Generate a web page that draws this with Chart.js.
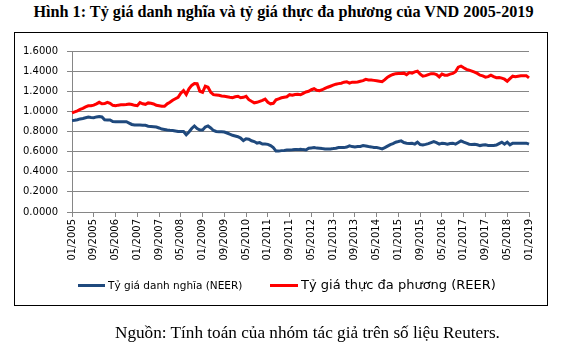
<!DOCTYPE html>
<html lang="vi">
<head>
  <meta charset="UTF-8" />
  <title>Tỷ giá danh nghĩa và tỷ giá thực đa phương của VND 2005-2019</title>
  <script src="https://cdn.jsdelivr.net/npm/chart.js"></script>
  <style>
    body { margin: 0; background: #fff; width: 567px; height: 350px; position: relative; overflow: hidden; }
    .abs { position: absolute; white-space: nowrap; }
    #title { left: 0; width: 567px; top: 3px; text-align: center; font: bold 16.2px "Liberation Serif", serif; color: #000; }
    #box { left: 14px; top: 32px; width: 532px; height: 272px; border: 1px solid #000; }
    #chart { position: absolute; left: 0; top: 0; }
    .swatch { height: 3px; }
    #leg1 { left: 108px; top: 279px; font: 10.5px "DejaVu Sans", sans-serif; line-height: 12px; }
    #leg2 { left: 301px; top: 277px; font: 13px "DejaVu Sans", sans-serif; line-height: 16px; }
    #source { left: 115px; top: 322px; font: 17.2px "Liberation Serif", serif; line-height: 22px; }
  </style>
</head>
<body>
  <div id="title" class="abs">Hình 1: Tỷ giá danh nghĩa và tỷ giá thực đa phương của VND 2005-2019</div>
  <div id="box" class="abs"></div>
  <canvas id="chart" width="567" height="350"></canvas>
  <div class="abs swatch" style="left:78px; top:284px; width:27px; background:#1f497d"></div>
  <div id="leg1" class="abs">Tỷ giá danh nghĩa (NEER)</div>
  <div class="abs swatch" style="left:270px; top:284px; width:28px; background:#ff0000"></div>
  <div id="leg2" class="abs">Tỷ giá thực đa phương (REER)</div>
  <div id="source" class="abs">Nguồn: Tính toán của nhóm tác giả trên số liệu Reuters.</div>

  <script>
    // monthly, 01/2005 .. 01/2019
    const firstYear = 2005;
    const lastYear = 2019;
    const months = [];
    for (let y = firstYear; y <= lastYear; y++) {
      for (let m = 1; m <= 12; m++) {
        if (y === lastYear && m > 1) break;
        months.push(String(m).padStart(2, '0') + '/' + y);
      }
    }

    // x labels shown every 8 months
    const tickLabels = ['01/2005', '09/2005', '05/2006', '01/2007', '09/2007', '05/2008',
      '01/2009', '09/2009', '05/2010', '01/2011', '09/2011', '05/2012', '01/2013', '09/2013',
      '05/2014', '01/2015', '09/2015', '05/2016', '01/2017', '09/2017', '05/2018', '01/2019'];

    const yTicks = [0, 0.2, 0.4, 0.6, 0.8, 1.0, 1.2, 1.4, 1.6];

    const neer = [
      0.910, 0.912, 0.917, 0.925, 0.930, 0.937, 0.944, 0.940, 0.937, 0.945, 0.950, 0.945, // 2005
      0.917, 0.915, 0.915, 0.900, 0.897, 0.897, 0.897, 0.897, 0.897, 0.884, 0.870, 0.864, // 2006
      0.864, 0.864, 0.862, 0.861, 0.852, 0.850, 0.847, 0.844, 0.835, 0.824, 0.820, 0.815, // 2007
      0.812, 0.810, 0.805, 0.800, 0.800, 0.800, 0.768, 0.795, 0.830, 0.855, 0.830, 0.815, // 2008
      0.815, 0.845, 0.855, 0.835, 0.810, 0.800, 0.797, 0.797, 0.795, 0.785, 0.773, 0.762, // 2009
      0.755, 0.748, 0.735, 0.710, 0.728, 0.724, 0.708, 0.700, 0.685, 0.690, 0.675, 0.675, // 2010
      0.672, 0.660, 0.640, 0.605, 0.605, 0.610, 0.612, 0.615, 0.617, 0.618, 0.620, 0.620, // 2011
      0.624, 0.620, 0.617, 0.634, 0.637, 0.640, 0.635, 0.634, 0.630, 0.627, 0.627, 0.627, // 2012
      0.630, 0.634, 0.640, 0.640, 0.640, 0.645, 0.657, 0.650, 0.645, 0.650, 0.652, 0.660, // 2013
      0.655, 0.650, 0.647, 0.642, 0.640, 0.635, 0.627, 0.640, 0.655, 0.670, 0.680, 0.694, // 2014
      0.700, 0.707, 0.690, 0.684, 0.680, 0.682, 0.675, 0.694, 0.670, 0.667, 0.672, 0.680, // 2015
      0.690, 0.700, 0.690, 0.675, 0.684, 0.680, 0.674, 0.680, 0.684, 0.674, 0.690, 0.707, // 2016
      0.694, 0.684, 0.674, 0.672, 0.674, 0.668, 0.660, 0.665, 0.667, 0.662, 0.660, 0.660, // 2017
      0.665, 0.680, 0.694, 0.674, 0.694, 0.667, 0.684, 0.684, 0.684, 0.684, 0.684, 0.684, // 2018
      0.674                                                                                // 2019
    ];

    const reer = [
      0.985, 0.995, 1.005, 1.020, 1.030, 1.045, 1.055, 1.057, 1.062, 1.075, 1.090, 1.075, // 2005
      1.077, 1.090, 1.080, 1.060, 1.057, 1.062, 1.065, 1.066, 1.068, 1.074, 1.068, 1.060, // 2006
      1.056, 1.087, 1.075, 1.070, 1.084, 1.080, 1.074, 1.060, 1.055, 1.050, 1.050, 1.075, // 2007
      1.090, 1.110, 1.125, 1.140, 1.180, 1.206, 1.168, 1.225, 1.258, 1.276, 1.275, 1.200, // 2008
      1.190, 1.250, 1.240, 1.190, 1.166, 1.163, 1.160, 1.153, 1.150, 1.145, 1.140, 1.136, // 2009
      1.145, 1.150, 1.135, 1.140, 1.150, 1.116, 1.100, 1.085, 1.090, 1.100, 1.110, 1.122, // 2010
      1.090, 1.075, 1.080, 1.115, 1.125, 1.135, 1.140, 1.145, 1.166, 1.160, 1.168, 1.170, // 2011
      1.165, 1.179, 1.193, 1.200, 1.215, 1.225, 1.210, 1.205, 1.215, 1.228, 1.240, 1.250, // 2012
      1.260, 1.270, 1.276, 1.280, 1.290, 1.294, 1.280, 1.290, 1.290, 1.292, 1.300, 1.305, // 2013
      1.318, 1.312, 1.311, 1.308, 1.304, 1.300, 1.295, 1.315, 1.340, 1.355, 1.367, 1.375, // 2014
      1.377, 1.377, 1.380, 1.365, 1.385, 1.380, 1.393, 1.400, 1.370, 1.350, 1.355, 1.365, // 2015
      1.375, 1.375, 1.365, 1.343, 1.372, 1.360, 1.360, 1.370, 1.377, 1.395, 1.440, 1.450, // 2016
      1.433, 1.417, 1.410, 1.400, 1.390, 1.377, 1.360, 1.353, 1.340, 1.345, 1.360, 1.345, // 2017
      1.335, 1.337, 1.330, 1.320, 1.300, 1.325, 1.350, 1.345, 1.350, 1.355, 1.355, 1.355, // 2018
      1.333                                                                                // 2019
    ];

    const axisGrey = '#868686';
    const tickFont = { family: '"DejaVu Sans", sans-serif', size: 10 };

    new Chart(document.getElementById('chart'), {
      type: 'line',
      data: {
        labels: months,
        datasets: [
          { label: 'Tỷ giá danh nghĩa (NEER)', data: neer, borderColor: '#1f497d', borderWidth: 3, pointRadius: 0, tension: 0 },
          { label: 'Tỷ giá thực đa phương (REER)', data: reer, borderColor: '#ff0000', borderWidth: 3, pointRadius: 0, tension: 0 }
        ]
      },
      options: {
        responsive: false,
        animation: false,
        layout: { padding: { left: 0, right: 38, top: 51, bottom: 88 } },
        plugins: { legend: { display: false }, tooltip: { enabled: false } },
        scales: {
          x: {
            grid: {
              drawOnChartArea: false,
              tickLength: 5,
              tickColor: c => (c.index % 8 === 0 ? axisGrey : 'transparent')
            },
            border: { color: axisGrey },
            ticks: {
              autoSkip: false,
              minRotation: 90,
              maxRotation: 90,
              padding: 2,
              color: '#000',
              font: tickFont,
              callback: (v, i) => (i % 8 === 0 ? tickLabels[i / 8] : '')
            },
            afterFit: s => { s.height = 50; }
          },
          y: {
            min: 0,
            max: 1.6,
            afterBuildTicks: s => { s.ticks = yTicks.map(v => ({ value: v })); },
            grid: { color: axisGrey, tickLength: 5 },
            border: { color: axisGrey },
            ticks: { padding: 9, color: '#000', font: tickFont, callback: v => v.toFixed(4) },
            afterFit: s => { s.width = 72; }
          }
        }
      }
    });
  </script>
</body>
</html>
